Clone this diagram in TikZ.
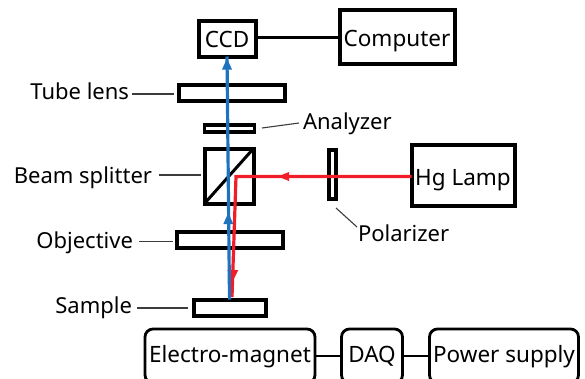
\documentclass[tikz,border=0pt]{standalone}
\usepackage{fontspec}
\setmainfont{Noto Sans}
\usetikzlibrary{arrows.meta}
\definecolor{beamred}{RGB}{240,30,40}
\definecolor{beamblue}{RGB}{30,115,190}
\definecolor{leadgray}{RGB}{60,60,60}
\tikzset{
 optic/.style={draw=black,line width=4pt,rectangle,inner sep=0pt,outer sep=0pt,font=\fontsize{22.5}{24}\selectfont,text height=18pt,text depth=0pt},
 plate/.style={draw=black,line width=4pt,rectangle,inner sep=0pt,outer sep=0pt},
 ctrl/.style={draw=black,line width=2.8pt,rectangle,rounded corners=8pt,inner sep=0pt,outer sep=0pt,font=\fontsize{22.5}{24}\selectfont,text height=16pt,text depth=4pt},
 lbl/.style={inner sep=0pt,outer sep=0pt,font=\fontsize{22}{24}\selectfont,text height=15pt,text depth=5pt},
 lead/.style={draw=leadgray,line width=1.1pt},
 wire/.style={draw=black,line width=2.8pt},
 redbeam/.style={draw=beamred,line width=3.2pt,line join=miter},
 bluebeam/.style={draw=beamblue,line width=3.2pt}
}
\begin{document}
\begin{tikzpicture}[x=1pt,y=-1pt]
\useasboundingbox (0,0) rectangle (585,378);
\clip (0,0) rectangle (585,378);
% instruments
\node[optic,minimum width=57pt,minimum height=36pt] (ccd) at (227,38.5) {CCD};
\node[optic,minimum width=115pt,minimum height=54pt,text height=19pt] (computer) at (397,36.5) {Computer};
\node[plate,minimum width=106pt,minimum height=16pt] (tube) at (231.5,92.5) {};
\node[plate,line width=3.2pt,minimum width=50pt,minimum height=7pt] (analyzer) at (229.5,128.5) {};
\node[plate,minimum width=49pt,minimum height=55pt] (bs) at (229,176) {};
\node[plate,line width=3.2pt,minimum width=7pt,minimum height=49pt] (pol) at (332.5,174.5) {};
\node[plate,minimum width=106pt,minimum height=16pt] (obj) at (229.5,239.5) {};
\node[plate,minimum width=72pt,minimum height=16pt] (sample) at (229.5,307.5) {};
\node[optic,minimum width=103pt,minimum height=61pt,text height=20pt] (lamp) at (463,175) {Hg Lamp};
\node[ctrl,minimum width=170pt,minimum height=54pt] (em) at (230,356) {Electro-magnet};
\node[ctrl,minimum width=61pt,minimum height=54pt] (daq) at (372,356) {DAQ};
\node[ctrl,minimum width=149pt,minimum height=54pt] (ps) at (504,356) {Power supply};
% labels
\node[lbl,anchor=east] (ltube) at (129,94) {Tube lens};
\node[lbl,anchor=west] (lana) at (303,124) {Analyzer};
\node[lbl,anchor=east,text height=21pt] (lbs) at (152,175) {Beam splitter};
\node[lbl,anchor=east,text height=19pt] (lobj) at (133,241.5) {Objective};
\node[lbl,anchor=east,text height=15pt] (lsam) at (132,308) {Sample};
\node[lbl,anchor=west,text height=17pt] (lpol) at (358,235) {Polarizer};
% leader lines
\draw[lead,shorten <=3pt,shorten >=5pt] (ltube.east) -- (tube.west |- ltube.east);
\coordinate (anafoot) at (262,128);
\coordinate (anahead) at (299,123);
\draw[lead] (anafoot) -- (anahead);
\draw[lead,shorten <=7pt,shorten >=4pt] (lbs.east) -- (bs.west |- lbs.east);
\draw[lead,shorten <=6pt,shorten >=4pt] (lobj.east) -- (obj.west |- lobj.east);
\draw[lead,shorten <=5pt,shorten >=6pt] (lsam.east) -- (sample.west |- lsam.east);
\coordinate (polfoot) at (336,208);
\coordinate (polhead) at (357,227);
\draw[lead] (polfoot) -- (polhead);
% wires
\draw[wire] ([yshift=1.2pt]ccd.east) -- ([yshift=-0.8pt]computer.west);
\draw[wire] (em.east) -- (daq.west);
\draw[wire] (daq.east) -- (ps.west);
% beam splitter diagonal
\draw[black,line width=3pt] (bs.south west) -- (bs.north east);
% beams
\coordinate (fold) at (236,176.5);
\coordinate (redspot) at (232,297);
\coordinate (lampport) at ([yshift=-1.5pt]lamp.west);
\draw[redbeam] (lampport) -- (fold) -- (redspot);
\coordinate (redtipa) at (278,176.5);
\coordinate (redtipb) at (232.8,281);
\fill[beamred] (redtipa) -- ++(11,-4.5) -- ++(0,9) -- cycle;
\fill[beamred] (redtipb) -- ++(-5.5,-11) -- ++(11,0) -- cycle;
\draw[bluebeam] (sample.north) -- (ccd.south);
\coordinate (bluetipa) at (228.3,213);
\fill[beamblue] (bluetipa) -- ++(-5,11) -- ++(10,0) -- cycle;
\fill[beamblue] (ccd.south) ++(0,2) -- ++(-5,11) -- ++(10,0) -- cycle;
\end{tikzpicture}
\end{document}
